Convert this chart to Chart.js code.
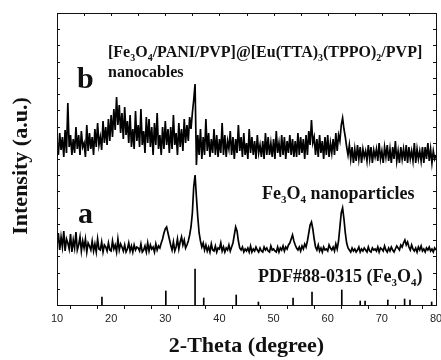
<!DOCTYPE html>
<html>
<head>
<meta charset="utf-8">
<script src="https://cdn.jsdelivr.net/npm/chart.js@4.4.0/dist/chart.umd.min.js"></script>
<style>
  body { margin: 0; background: #fff; }
  canvas { display: block; }
</style>
</head>
<body>
<canvas id="xrd" width="441" height="360"></canvas>
<script>
// sampling of the scans: 10 -> 80 degrees, every 0.25 degree
var thetaStart = 10;
var thetaStep = 0.25;

// curve a: Fe3O4 nanoparticles (4 values per degree)
var curveA = [
    60,72,55,68, 58,74,54,66, 62,56,71,53, 65,57,73,55, 60,68,54,64,   // 10-14
    57,66,53,62, 59,55,64,54, 61,53,66,56, 55,63,53,60, 58,54,62,55,   // 15-19
    54,64,56,60, 53,66,55,61, 58,54,60,53, 56,62,54,59, 53,60,55,58,   // 20-24
    57,54,61,53, 55,59,53,62, 54,60,56,58, 53,61,55,59, 57,62,66,72,   // 25-29
    76,78,72,66, 60,55,63,54, 58,66,56,63, 68,60,65,57, 60,64,70,78,   // 30-34
    92,118,130,108, 88,72,64,58, 62,55,60,54, 58,53,61,55, 54,59,53,57, // 35-39
    56,62,54,58, 53,57,55,60, 54,58,62,70, 78,74,64,57, 55,58,53,56,   // 40-44
    54,57,53,59, 53,56,54,58, 55,53,57,54, 53,58,55,57, 54,53,59,55,   // 45-49
    56,54,53,58, 53,57,55,59, 54,58,56,60, 62,66,70,64, 60,57,55,58,   // 50-54
    54,59,56,61, 58,64,72,80, 83,76,66,58, 55,60,54,57, 53,58,55,56,   // 55-59
    54,60,57,55, 58,54,61,56, 64,78,92,97, 86,72,62,57, 55,53,57,54,   // 60-64
    56,53,55,58, 53,56,54,57, 55,53,58,54, 53,57,55,56, 54,58,53,57,   // 65-69
    56,54,59,55, 53,57,54,58, 55,53,56,59, 57,55,60,58, 62,65,60,63,   // 70-74
    58,55,60,56, 54,57,53,58, 55,59,54,56, 53,57,55,58, 54,56,53,57,   // 75-79
    55                                                                  // 80
];

// curve b: [Fe3O4/PANI/PVP]@[Eu(TTA)3(TPPO)2/PVP] nanocables
var curveB = [
    160,150,172,155, 168,148,175,152, 202,158,170,150, 166,152,178,156, 170,150,174,158, // 10-14
    162,148,180,154, 172,156,168,150, 176,158,182,160, 168,155,184,162, 178,160,186,164, // 15-19
    190,168,196,175, 208,180,200,172, 192,166,198,170, 184,162,190,158, 176,156,194,164, // 20-24
    180,158,196,160, 174,152,188,162, 186,158,178,150, 182,160,192,156, 170,150,178,156, // 25-29
    184,160,176,152, 178,156,190,160, 172,150,182,158, 176,154,186,162, 180,164,188,176, // 30-34
    192,205,221,140, 170,150,176,146, 168,150,186,154, 172,148,166,152, 176,150,170,148, // 35-39
    166,152,182,150, 170,148,164,156, 174,150,168,146, 166,152,180,154, 168,148,172,150, // 40-44
    162,146,176,152, 168,150,164,146, 170,152,160,148, 164,146,172,150, 168,150,162,148, // 45-49
    166,146,174,152, 162,148,170,150, 168,146,164,152, 170,150,166,148, 164,148,172,150, // 50-54
    168,152,166,146, 170,150,174,160, 185,162,168,150, 166,148,170,152, 164,146,168,150, // 55-59
    170,148,162,152, 166,150,172,154, 170,164,180,187, 176,168,158,150, 160,146,158,142, // 60-64
    156,144,160,146, 158,142,156,148, 154,144,160,146, 158,142,155,148, 156,144,162,146, // 65-69
    154,142,158,148, 160,144,156,142, 158,146,164,144, 154,142,158,146, 156,144,160,142, // 70-74
    158,146,154,144, 162,142,156,146, 154,144,158,142, 158,146,162,144, 156,142,154,146, // 75-79
    150                                                                                   // 80
];

// standard pattern PDF#88-0315 (Fe3O4)
var pdfAngles = [18.3, 30.1, 35.5, 37.1, 43.1, 47.2, 53.6, 57.1, 62.6, 66.0, 66.9, 71.1, 74.2, 75.2, 79.2];
var pdfHeights = [8, 14, 36, 7, 10, 3, 7, 13, 15, 4, 4, 5, 6, 5, 3];

var xTickLabels = [10, 20, 30, 40, 50, 60, 70, 80];
var yMax = 292;
var yTickCount = 18;

var serif = '"Liberation Serif", "Times New Roman", serif';

function toPoints(values) {
    return values.map(function (v, i) {
        return { x: thetaStart + i * thetaStep, y: v };
    });
}

function drawRich(ctx, parts, x, y, size) {
    parts.forEach(function (p) {
        var sub = p[1];
        ctx.font = 'bold ' + (sub ? Math.round(size * 0.62) : size) + 'px ' + serif;
        ctx.fillText(p[0], x, sub ? y + size * 0.22 : y);
        x += ctx.measureText(p[0]).width;
    });
}

// box frame with the inward ticks on top, left and right
var framePlugin = {
    id: 'frame',
    afterDraw: function (chart) {
        var ctx = chart.ctx;
        var a = chart.chartArea;
        var xs = chart.scales.x;
        var ys = chart.scales.y;
        ctx.save();
        ctx.strokeStyle = '#111';
        ctx.lineWidth = 1;
        ctx.strokeRect(a.left + 0.5, a.top + 0.5, a.right - a.left, a.bottom - a.top);
        ctx.beginPath();
        xs.ticks.forEach(function (t) {
            var px = Math.round(xs.getPixelForValue(t.value)) + 0.5;
            ctx.moveTo(px, a.top);
            ctx.lineTo(px, a.top + 3);
        });
        ys.ticks.forEach(function (t) {
            var py = Math.round(ys.getPixelForValue(t.value)) + 0.5;
            ctx.moveTo(a.left, py);
            ctx.lineTo(a.left + 3, py);
            ctx.moveTo(a.right, py);
            ctx.lineTo(a.right - 3, py);
        });
        ctx.stroke();
        ctx.restore();
    }
};

// labels written on the plot
var labelPlugin = {
    id: 'labels',
    afterDraw: function (chart) {
        var ctx = chart.ctx;
        ctx.save();
        ctx.fillStyle = '#111';
        ctx.textBaseline = 'alphabetic';
        ctx.textAlign = 'left';

        ctx.font = 'bold 30px ' + serif;
        ctx.fillText('b', 77, 88);
        ctx.fillText('a', 78, 223);

        drawRich(ctx, [['[Fe', 0], ['3', 1], ['O', 0], ['4', 1], ['/PANI/PVP]@[Eu(TTA)', 0], ['3', 1],
            ['(TPPO)', 0], ['2', 1], ['/PVP]', 0]], 108, 57, 16);
        drawRich(ctx, [['nanocables', 0]], 108, 77, 16);
        drawRich(ctx, [['Fe', 0], ['3', 1], ['O', 0], ['4', 1], [' nanoparticles', 0]], 262, 199, 18);
        drawRich(ctx, [['PDF#88-0315 (Fe', 0], ['3', 1], ['O', 0], ['4', 1], [')', 0]], 258, 282, 18);

        // y axis title
        ctx.translate(21, 166);
        ctx.rotate(-Math.PI / 2);
        ctx.textAlign = 'center';
        ctx.textBaseline = 'middle';
        ctx.font = 'bold 22px ' + serif;
        ctx.fillText('Intensity (a.u.)', 0, 0);
        ctx.restore();
    }
};

var ctx = document.getElementById('xrd').getContext('2d');

var xrdChart = new Chart(ctx, {
    type: 'line',
    data: {
        datasets: [{
            label: 'b',
            data: toPoints(curveB),
            borderColor: '#000',
            borderWidth: 1.7,
            pointRadius: 0,
            tension: 0
        }, {
            label: 'a',
            data: toPoints(curveA),
            borderColor: '#000',
            borderWidth: 1.7,
            pointRadius: 0,
            tension: 0
        }, {
            type: 'bar',
            label: 'PDF#88-0315',
            data: pdfAngles.map(function (t, i) { return { x: t, y: pdfHeights[i] }; }),
            backgroundColor: '#000',
            barThickness: 1
        }]
    },
    options: {
        responsive: false,
        animation: false,
        devicePixelRatio: 1,
        layout: { padding: { top: 13, right: 5, left: 0, bottom: 0 } },
        plugins: {
            legend: { display: false },
            tooltip: { enabled: false }
        },
        scales: {
            x: {
                type: 'linear',
                min: 10,
                max: 80,
                offset: false,
                ticks: {
                    stepSize: 5,
                    autoSkip: false,
                    maxRotation: 0,
                    padding: 3,
                    color: '#222',
                    font: { family: '"Liberation Sans", Arial, sans-serif', size: 11 },
                    callback: function (v) {
                        return xTickLabels.indexOf(v) !== -1 ? String(v) : '';
                    }
                },
                grid: { drawOnChartArea: false, drawTicks: true, tickLength: 4, color: '#111' },
                border: { display: true, color: '#111' },
                title: {
                    display: true,
                    text: '2-Theta (degree)',
                    color: '#111',
                    padding: { top: 0, bottom: 0 },
                    font: { family: serif, size: 22, weight: 'bold' }
                },
                afterFit: function (s) {
                    s.height = 55;
                    s.paddingLeft = 0;
                    s.paddingRight = 0;
                }
            },
            y: {
                min: 0,
                max: yMax,
                ticks: { display: false },
                grid: { display: false },
                border: { display: false },
                afterBuildTicks: function (s) {
                    var ticks = [];
                    for (var i = 0; i <= yTickCount; i++) {
                        ticks.push({ value: i * yMax / yTickCount });
                    }
                    s.ticks = ticks;
                },
                afterFit: function (s) {
                    s.width = 57;
                }
            }
        }
    },
    plugins: [framePlugin, labelPlugin]
});
</script>
</body>
</html>
